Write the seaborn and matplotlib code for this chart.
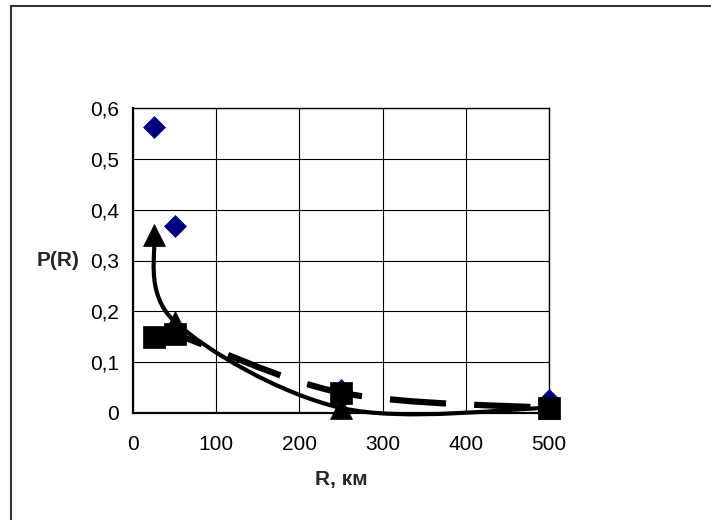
import matplotlib
matplotlib.use("Agg")
import matplotlib.pyplot as plt
from matplotlib.path import Path
from matplotlib.patches import PathPatch, Rectangle
from matplotlib.ticker import FuncFormatter
import numpy as np
import seaborn as sns

# values
distance_km = [25, 50, 250, 500]
p_diamond = [0.563, 0.368, 0.045, 0.025]
p_triangle = [0.35, 0.18, 0.01, 0.01]
p_square = [0.15, 0.155, 0.04, 0.01]

x_ticks = [0, 100, 200, 300, 400, 500]
y_ticks = [0, 0.1, 0.2, 0.3, 0.4, 0.5, 0.6]

sns.set_style("white")
plt.rcParams["font.family"] = ["Liberation Sans", "DejaVu Sans"]


def smooth_path(xs, ys):
    """Excel-style smoothed line: cubic Bezier through the points."""
    pts = np.column_stack([xs, ys]).astype(float)
    n = len(pts)
    verts = [pts[0]]
    codes = [Path.MOVETO]
    for i in range(n - 1):
        p_prev = pts[max(i - 1, 0)]
        p0, p1 = pts[i], pts[i + 1]
        p_next = pts[min(i + 2, n - 1)]
        c1 = p0 + (p1 - p_prev) / 6
        c2 = p1 - (p_next - p0) / 6
        verts += [c1, c2, p1]
        codes += [Path.CURVE4] * 3
    return Path(verts, codes)


fig = plt.figure(figsize=(7.11, 5.2), dpi=100)
ax = fig.add_axes([133 / 711, 1 - 413 / 520, (549 - 133) / 711, (413 - 108) / 520])

# series 1: diamonds only
sns.scatterplot(x=distance_km, y=p_diamond, marker="D", s=125, color="#000080",
                edgecolor="#000080", linewidth=0.5, ax=ax, zorder=3, clip_on=False,
                legend=False)

# series 2: smoothed solid line + triangles
ax.add_patch(PathPatch(smooth_path(distance_km, p_triangle), fill=False,
                       edgecolor="black", lw=3, zorder=4, clip_on=False,
                       capstyle="butt"))
sns.scatterplot(x=distance_km, y=p_triangle, marker="^", s=250, color="black",
                edgecolor="black", linewidth=0.5, ax=ax, zorder=5, clip_on=False,
                legend=False)

# series 3: smoothed long-dash line + squares
ax.add_patch(PathPatch(smooth_path(distance_km, p_square), fill=False,
                       edgecolor="black", lw=4.5, linestyle=(0, (9, 4.5)),
                       zorder=6, clip_on=False, capstyle="butt"))
sns.scatterplot(x=distance_km, y=p_square, marker="s", s=235, color="black",
                edgecolor="black", linewidth=0.5, ax=ax, zorder=7, clip_on=False,
                legend=False)

ax.set_xlim(0, 500)
ax.set_ylim(0, 0.6)
ax.set_xticks(x_ticks)
ax.set_yticks(y_ticks)
ax.yaxis.set_major_formatter(FuncFormatter(
    lambda v, _: "0" if abs(v) < 1e-9 else f"{v:.1f}".replace(".", ",")))
ax.tick_params(axis="both", direction="out", length=4, width=1, color="black",
               labelsize=15, labelcolor="black")
ax.tick_params(axis="x", pad=12)
ax.tick_params(axis="y", pad=6)
ax.grid(True, color="black", lw=0.8)
ax.set_axisbelow(True)
for side in ["left", "bottom"]:
    ax.spines[side].set_color("black")
    ax.spines[side].set_linewidth(1.6)
for side in ["top", "right"]:
    ax.spines[side].set_color("black")
    ax.spines[side].set_linewidth(1.0)
ax.set_xlabel("")
ax.set_ylabel("")

fig.text(58 / 711, 1 - 261 / 520, "P(R)", fontsize=15, fontweight="bold",
         ha="center", va="center")
fig.text(341 / 711, 1 - 479 / 520, "R, км", fontsize=15, fontweight="bold",
         ha="center", va="center")

# outer chart frame (cut off on the right and bottom)
x0 = 11 / 711
y_top = 1 - 6 / 520
fig.add_artist(Rectangle((x0, -0.02), 1.05 - x0, y_top + 0.02, fill=False,
                         edgecolor="#333333", lw=1.5, transform=fig.transFigure,
                         clip_on=False))

fig.savefig("out.png", dpi=100)
